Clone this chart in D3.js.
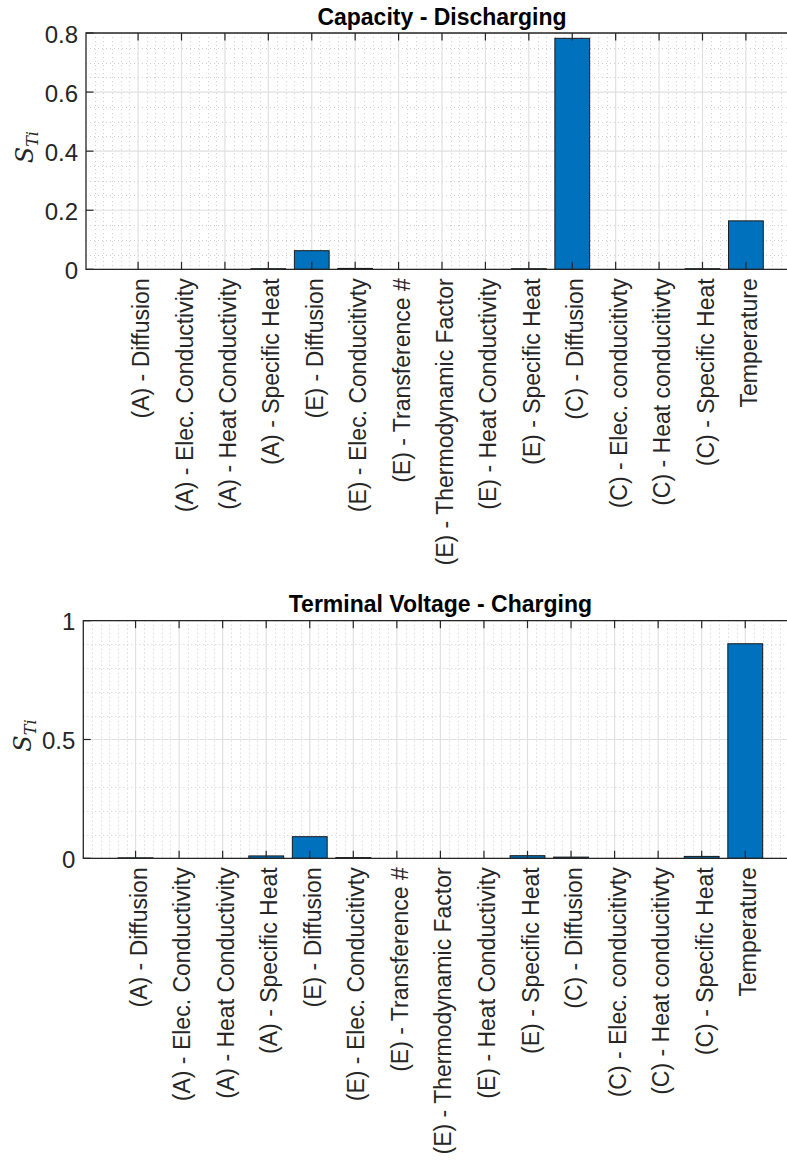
<!DOCTYPE html>
<html>
<head>
<meta charset="utf-8">
<script src="https://cdn.jsdelivr.net/npm/d3@7"></script>
<style>
  html, body { margin: 0; padding: 0; background: #fff; }
  svg { display: block; }
</style>
</head>
<body>
<svg id="fig" width="787" height="1161"></svg>
<script>
// Parameter names shared by both panels
const categories = [
  "(A) - Diffusion",
  "(A) - Elec. Conductivity",
  "(A) - Heat Conductivity",
  "(A) - Specific Heat",
  "(E) - Diffusion",
  "(E) - Elec. Conducitivty",
  "(E) - Transference #",
  "(E) - Thermodynamic Factor",
  "(E) - Heat Conductivity",
  "(E) - Specific Heat",
  "(C) - Diffusion",
  "(C) - Elec. conducitivty",
  "(C) - Heat conducitivty",
  "(C) - Specific Heat",
  "Temperature"
];

// Total-order Sobol indices, capacity during discharge
const capacityDischarging = [0, 0, 0, 0.002, 0.063, 0.003, 0, 0, 0, 0.002, 0.782, 0, 0, 0.002, 0.164];

// Total-order Sobol indices, terminal voltage during charge
const voltageCharging = [0.002, 0, 0, 0.010, 0.091, 0.003, 0, 0, 0, 0.011, 0.005, 0, 0, 0.008, 0.903];

// y-axis ticks for each panel
const capacityTicks = [0, 0.2, 0.4, 0.6, 0.8];
const capacityTickLabels = ["0", "0.2", "0.4", "0.6", "0.8"];
const voltageTicks = [0, 0.5, 1];
const voltageTickLabels = ["0", "0.5", "1"];

const SANS = "'Liberation Sans', Arial, Helvetica, sans-serif";
const SERIF = "'DejaVu Serif', 'Liberation Serif', serif";

const svg = d3.select("#fig");

function drawPanel(opt) {
  const g = svg.append("g");
  const n = opt.values.length;
  const x = d3.scaleLinear().domain([-0.2, n + 1.2]).range([opt.left, opt.right]);
  const y = d3.scaleLinear().domain(opt.yDomain).range([opt.bottom, opt.top]);

  const clipId = "clip-" + opt.id;
  g.append("clipPath").attr("id", clipId)
    .append("rect")
    .attr("x", opt.left).attr("y", opt.top)
    .attr("width", opt.right - opt.left).attr("height", opt.bottom - opt.top);

  const plot = g.append("g").attr("clip-path", `url(#${clipId})`);

  const xMajor = d3.range(1, n + 1);
  const xMinor = d3.range(0, n + 1.01, 0.2).map(v => +v.toFixed(2))
    .filter(v => Math.abs(v - Math.round(v)) > 1e-6 || v === 0 || v === n + 1);
  const yMinor = d3.range(opt.yDomain[0], opt.yDomain[1] + 1e-9, opt.minorStep)
    .map(v => +v.toFixed(4))
    .filter(v => !opt.ticks.some(t => Math.abs(t - v) < 1e-6));

  // minor grid (dotted)
  const minorColor = "#cfcfcf";
  plot.append("g").selectAll("line").data(xMinor).join("line")
    .attr("x1", d => Math.round(x(d)) + 0.5).attr("x2", d => Math.round(x(d)) + 0.5)
    .attr("y1", opt.top).attr("y2", opt.bottom)
    .attr("stroke", minorColor).attr("stroke-width", 1).attr("stroke-dasharray", "1,3");
  plot.append("g").selectAll("line").data(yMinor).join("line")
    .attr("x1", opt.left).attr("x2", opt.right)
    .attr("y1", d => Math.round(y(d)) + 0.5).attr("y2", d => Math.round(y(d)) + 0.5)
    .attr("stroke", minorColor).attr("stroke-width", 1).attr("stroke-dasharray", "1,3");

  // major grid
  plot.append("g").selectAll("line").data(xMajor).join("line")
    .attr("x1", d => x(d)).attr("x2", d => x(d))
    .attr("y1", opt.top).attr("y2", opt.bottom)
    .attr("stroke", "#e0e0e0").attr("stroke-width", 1.2);
  plot.append("g").selectAll("line").data(opt.ticks).join("line")
    .attr("x1", opt.left).attr("x2", opt.right)
    .attr("y1", d => y(d)).attr("y2", d => y(d))
    .attr("stroke", "#e0e0e0").attr("stroke-width", 1.2);

  // bars
  const bw = x(0.8) - x(0);
  plot.append("g").selectAll("rect").data(opt.values).join("rect")
    .attr("x", (d, i) => x(i + 1) - bw / 2)
    .attr("width", bw)
    .attr("y", d => y(d))
    .attr("height", d => y(0) - y(d))
    .attr("fill", "#0072BD")
    .attr("stroke", d => d > 0 ? "#1a1a1a" : "none")
    .attr("stroke-width", 1);

  // axis box (top, left, bottom)
  const axisColor = "#262626";
  g.append("path")
    .attr("d", `M${opt.right},${opt.top}H${opt.left}V${opt.bottom}H${opt.right}`)
    .attr("fill", "none").attr("stroke", axisColor).attr("stroke-width", 1.3);

  // inward tick marks
  const tl = 7.5;
  const ticks = g.append("g").attr("stroke", axisColor).attr("stroke-width", 1.2);
  xMajor.forEach(v => {
    ticks.append("line").attr("x1", x(v)).attr("x2", x(v)).attr("y1", opt.bottom).attr("y2", opt.bottom - tl);
    ticks.append("line").attr("x1", x(v)).attr("x2", x(v)).attr("y1", opt.top).attr("y2", opt.top + tl);
  });
  opt.ticks.forEach(v => {
    ticks.append("line").attr("x1", opt.left).attr("x2", opt.left + tl).attr("y1", y(v)).attr("y2", y(v));
  });

  // y tick labels
  g.append("g").selectAll("text").data(opt.ticks).join("text")
    .attr("x", opt.left - 8)
    .attr("y", d => y(d))
    .attr("dy", "0.4em")
    .attr("text-anchor", "end")
    .style("font-family", SANS)
    .style("font-size", "24px")
    .attr("fill", "#262626")
    .text((d, i) => opt.tickLabels[i]);

  // category labels, rotated
  g.append("g").selectAll("text").data(categories).join("text")
    .attr("transform", (d, i) => `translate(${x(i + 1) + 3},${opt.bottom + 9}) rotate(-90)`)
    .attr("dy", "0.35em")
    .attr("text-anchor", "end")
    .style("font-family", SANS)
    .style("font-size", "23px")
    .attr("fill", "#262626")
    .text(d => d);

  // y-axis label S_Ti
  const yl = g.append("text")
    .attr("transform", `translate(${opt.yLabelX},${(opt.top + opt.bottom) / 2 - 4}) rotate(-90)`)
    .attr("text-anchor", "middle")
    .style("font-family", SERIF)
    .style("font-style", "italic")
    .style("font-size", "24px")
    .attr("fill", "#262626");
  yl.append("tspan").text("S");
  yl.append("tspan").style("font-size", "16px").attr("dy", 5).text("Ti");

  // title
  g.append("text")
    .attr("x", (opt.left + opt.right) / 2)
    .attr("y", opt.titleY)
    .attr("text-anchor", "middle")
    .style("font-family", SANS)
    .style("font-size", "23px")
    .style("font-weight", "bold")
    .attr("fill", "#000")
    .text(opt.title);
}

drawPanel({
  id: "cap", title: "Capacity - Discharging",
  values: capacityDischarging,
  ticks: capacityTicks, tickLabels: capacityTickLabels,
  yDomain: [0, 0.8], minorStep: 0.05,
  left: 86, right: 798, top: 33, bottom: 269.3,
  titleY: 25, yLabelX: 33
});

drawPanel({
  id: "volt", title: "Terminal Voltage - Charging",
  values: voltageCharging,
  ticks: voltageTicks, tickLabels: voltageTickLabels,
  yDomain: [0, 1], minorStep: 0.1,
  left: 83.3, right: 797.5, top: 620.7, bottom: 858.3,
  titleY: 612, yLabelX: 31
});
</script>
</body>
</html>
